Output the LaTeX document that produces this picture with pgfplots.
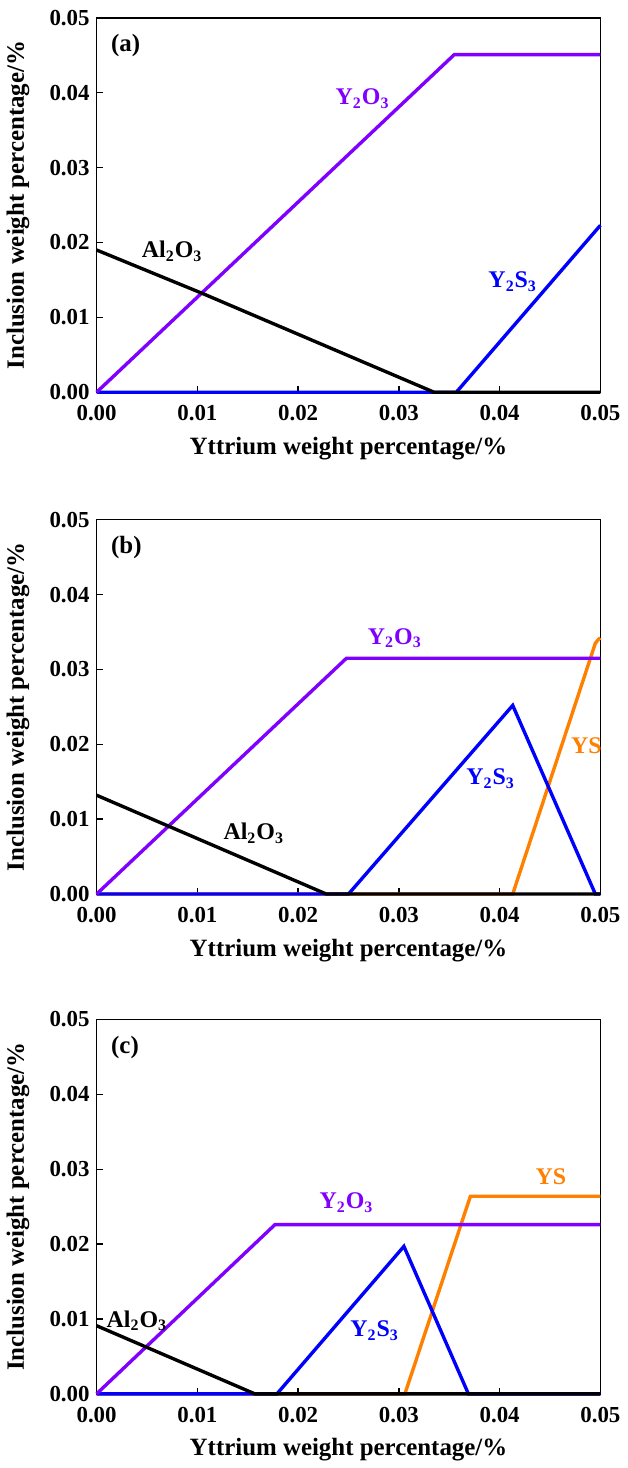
\documentclass[border=0pt]{standalone}
\usepackage{fontspec}
\setmainfont{Liberation Serif}
\usepackage{pgfplots}
\pgfplotsset{compat=1.18}
\definecolor{cYO}{HTML}{8000FF}
\definecolor{cYSS}{HTML}{0000FF}
\definecolor{cYS}{HTML}{FF8000}
\tikzset{lab/.style={font=\fontsize{12}{14}\selectfont\bfseries, anchor=center}}
\pgfplotsset{myax/.style={
  width=253pt,height=188pt,scale only axis,
  xmin=0,xmax=0.05,ymin=0,ymax=0.05,
  scaled ticks=false,
  xtick={0,0.01,0.02,0.03,0.04,0.05},
  ytick={0,0.01,0.02,0.03,0.04,0.05},
  xticklabels={0.00,0.01,0.02,0.03,0.04,0.05},
  yticklabels={0.00,0.01,0.02,0.03,0.04,0.05},
  tick align=inside, xtick pos=bottom, ytick pos=left,
  major tick length=3pt,
  tick style={black, line width=0.7pt},
  axis line style={line width=0.7pt},
  ticklabel style={font=\fontsize{11.5}{13}\selectfont\bfseries},
  xticklabel style={yshift=-3pt},
  label style={font=\fontsize{12.5}{14}\selectfont\bfseries},
  xlabel={Yttrium weight percentage/\%},
  ylabel={Inclusion weight percentage/\%},
  xlabel style={at={(axis description cs:0.5,-0.15)},anchor=center},
  ylabel style={at={(axis description cs:-0.156,0.5)},anchor=center},
  clip=false,
  every axis plot/.append style={line width=1.7pt, no marks},
}}
\begin{document}
\begin{tikzpicture}
% (a)
\begin{axis}[myax, at={(0,0)}]
\addplot[cYSS] coordinates {(0,0)(0.0357,0)(0.05,0.0223)};
\addplot[cYO] coordinates {(0,0)(0.0355,0.0451)(0.05,0.0451)};
\addplot[black] coordinates {(0,0.0190)(0.0105,0.0132)(0.0335,0)(0.05,0)};
\node[anchor=north west,font=\fontsize{12.5}{14}\selectfont\bfseries] at (rel axis cs:0.015,0.975) {(a)};
\node[lab,text=cYO] at (axis cs:0.0264,0.0392) {Y\textsubscript{2}O\textsubscript{3}};
\node[lab,text=black] at (axis cs:0.0075,0.0188) {Al\textsubscript{2}O\textsubscript{3}};
\node[lab,text=cYSS] at (axis cs:0.0413,0.0148) {Y\textsubscript{2}S\textsubscript{3}};
\end{axis}
% (b)
\begin{axis}[myax, at={(0,-252pt)}]
\addplot[cYS] coordinates {(0,0)(0.0413,0)(0.0495,0.0335)(0.0498,0.0340)(0.05,0.0342)};
\addplot[cYSS] coordinates {(0,0)(0.0250,0)(0.0413,0.0252)(0.0495,0)(0.05,0)};
\addplot[cYO] coordinates {(0,0)(0.0248,0.0315)(0.05,0.0315)};
\addplot[black] coordinates {(0,0.0132)(0.0228,0)(0.05,0)};
\node[anchor=north west,font=\fontsize{12.5}{14}\selectfont\bfseries] at (rel axis cs:0.015,0.975) {(b)};
\node[lab,text=cYO] at (axis cs:0.0296,0.0342) {Y\textsubscript{2}O\textsubscript{3}};
\node[lab,text=black] at (axis cs:0.0156,0.0081) {Al\textsubscript{2}O\textsubscript{3}};
\node[lab,text=cYSS] at (axis cs:0.0391,0.0154) {Y\textsubscript{2}S\textsubscript{3}};
\node[lab,text=cYS] at (axis cs:0.0486,0.0198) {YS};
\end{axis}
% (c)
\begin{axis}[myax, at={(0,-503pt)}]
\addplot[cYS] coordinates {(0,0)(0.0306,0)(0.0371,0.0264)(0.05,0.0264)};
\addplot[cYSS] coordinates {(0,0)(0.0179,0)(0.0305,0.0197)(0.0369,0)(0.05,0)};
\addplot[cYO] coordinates {(0,0)(0.0177,0.0226)(0.05,0.0226)};
\addplot[black] coordinates {(0,0.0091)(0.0157,0)(0.05,0)};
\node[anchor=north west,font=\fontsize{12.5}{14}\selectfont\bfseries] at (rel axis cs:0.015,0.975) {(c)};
\node[lab,text=cYO] at (axis cs:0.0248,0.0255) {Y\textsubscript{2}O\textsubscript{3}};
\node[lab,text=black] at (axis cs:0.0040,0.00975) {Al\textsubscript{2}O\textsubscript{3}};
\node[lab,text=cYSS] at (axis cs:0.0276,0.0084) {Y\textsubscript{2}S\textsubscript{3}};
\node[lab,text=cYS] at (axis cs:0.0451,0.0290) {YS};
\end{axis}
\path (0,197pt) (0,-540pt);
\end{tikzpicture}
\end{document}
